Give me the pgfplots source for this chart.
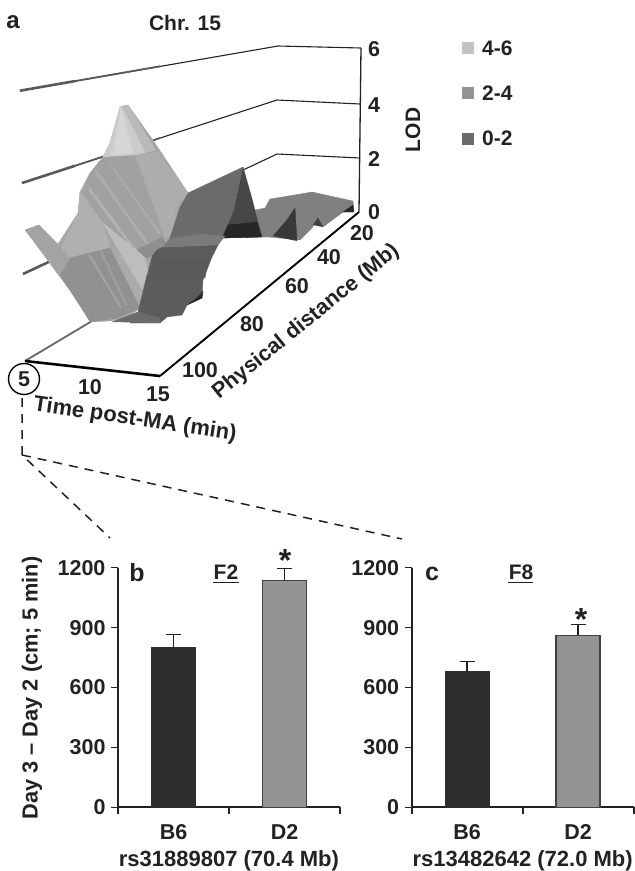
\documentclass[border=0pt]{standalone}
\usepackage{fontspec}
\setmainfont{Liberation Sans}
\usepackage{pgfplots}
\pgfplotsset{compat=1.18}
\definecolor{ink}{HTML}{222222}
\newcommand{\fs}[1]{\fontsize{#1}{#1}\selectfont\bfseries}
\newcommand{\poly}[2]{\addplot[fill=#1,draw=#1,line width=.3pt,mark=none,forget plot] coordinates {#2};}
\newcommand{\seg}[3]{\addplot[draw=#1,line width=#2,mark=none,forget plot] coordinates {#3};}
\pgfplotsset{barpanel/.style={
  scale only axis,width=222pt,height=239.6pt,anchor=south west,
  xmin=0,xmax=2,ymin=0,ymax=1200,clip=false,
  axis x line*=bottom,axis y line*=left,axis line style={-,line width=1.7pt,ink},
  xtick={0,1,2},xticklabels={},
  ytick={0,300,600,900,1200},
  tick align=outside,major tick length=7pt,tick style={line width=1.6pt,ink},
  /pgf/number format/assume math mode=true,/pgf/number format/1000 sep={},
  ticklabel style={font=\fs{21.5},text=ink},
  yticklabel style={xshift=-2pt},
  extra x ticks={0.5,1.5},extra x tick labels={B6,D2},
  extra x tick style={major tick length=0pt,tick style={draw=none},xticklabel style={yshift=-14pt}},
  ybar,bar shift=0pt,bar width=44pt,
  error bars/error bar style={line width=1.5pt,ink},
  error bars/error mark options={rotate=90,mark size=7.5pt,line width=1.5pt,ink},
}}
\begin{document}
\begin{tikzpicture}
\useasboundingbox (0,0) rectangle (635pt,871pt);
\begin{axis}[at={(0pt,0pt)},anchor=south west,scale only axis,width=635pt,height=871pt,
  xmin=0,xmax=635,ymin=0,ymax=871,y dir=reverse,hide axis,clip=false]
% LOD wall lines
\seg{ink}{1.1pt}{(20,90.7)(278,46)(361,48)}
\seg{ink}{1.1pt}{(22,183)(277,100)(360,104)}
\seg{ink}{1.1pt}{(23,274)(277,154)(360,158)}
\seg{black!65}{1.8pt}{(75,81.1)(160,66.3)}
\seg{black!65}{2.6pt}{(20,90.7)(75,81.1)}
\seg{black!65}{1.8pt}{(75,165.8)(160,138)}
\seg{black!65}{2.6pt}{(22,183)(75,165.8)}
\seg{black!65}{2.6pt}{(23,274)(70,252)}
\seg{ink}{1.3pt}{(361,48)(359,212)}
% floor
\seg{black!60}{1.8pt}{(25,361)(92,321)}
\seg{black}{1.9pt}{(160,376)(359,212)}
\seg{black}{2.6pt}{(25,361)(160,376)}
% surface, left body
\poly{black!35}{(25,230)(39,225)(58,244)(78,213)(80,192)(90,173)(103,157)(110,143)(120,107)(128,105)(155,143)(188,193)(177,217)(172,240)(157,252)(147,275)(138,310)(123,320)(93,322)}
\poly{black!37}{(103,157)(135,155)(165,238)(137,250)(103,223)(83,193)(90,173)}
\poly{black!32}{(135,155)(157,152)(188,193)(175,208)(173,232)(165,238)}
\poly{black!31}{(60,250)(78,213)(80,192)(103,223)(110,248)(70,258)}
\poly{black!20}{(103,157)(110,143)(120,107)(128,105)(155,150)(135,155)}
\poly{black!16}{(113,155)(121,108)(133,153)}
\poly{black!27}{(122,106)(128,105)(155,150)(145,152)}
\poly{black!32}{(95,172)(97,171)(150,245)(148,247)}
\poly{black!33}{(110,165)(111,164)(160,232)(159,235)}
\poly{black!30}{(88,190)(90,188)(140,255)(137,255)}
\poly{black!26}{(103,223)(145,257)(148,273)(142,290)(120,253)}
\poly{black!33}{(110,248)(120,253)(142,290)(140,308)}
\poly{black!43}{(60,275)(70,258)(93,252)(110,248)(140,308)(117,318)(90,322)}
\poly{black!36}{(88,255)(90,254)(122,308)(120,308)}
\poly{black!38}{(100,252)(102,251)(128,305)(126,307)}
\poly{black!44}{(137,250)(162,237)(167,245)(155,255)(146,258)}
\poly{black!36}{(25,230)(39,225)(70,258)(60,275)}
% surface, right plateau
\poly{black!50}{(255,210)(265,208)(270,199)(312,192)(353,201)(354,212)(343,212)(323,227)(318,218)(312,228)(300,240)(268,237)(262,237)}
\poly{black!78}{(273,236)(287,220)(295,208)(297,241)}
\poly{black!75}{(313,225)(318,218)(323,227)}
\poly{black!85}{(343,212)(353,205)(354,212)}
% surface, spike
\poly{black!58}{(188,193)(243,167)(233,213)(222,238)(213,247)(170,238)(180,207)}
\poly{black!72}{(243,167)(251,195)(262,237)(222,238)(233,213)}
\poly{black!85}{(228,225)(257,222)(262,237)(222,238)}
% surface, front
\poly{black!64}{(152,256)(157,250)(163,247)(218,245)(212,257)(203,280)(202,298)(187,305)(182,315)(167,317)(160,323)(130,323)(138,312)(147,275)}
\poly{black!52}{(170,238)(163,247)(218,245)(225,236)(200,234)}
\poly{black!65}{(155,262)(208,262)(205,278)(150,278)}
\poly{black!58}{(112,322)(138,312)(160,318)(160,323)}
\poly{black!85}{(187,305)(202,298)(203,291)(199,296)}
% legend
\addplot[only marks,mark=square*,mark size=5.5pt,mark options={fill=black!24,draw=black!24},forget plot] coordinates {(467.5,47.5)};
\addplot[only marks,mark=square*,mark size=5.5pt,mark options={fill=black!42,draw=black!42},forget plot] coordinates {(467.5,92.5)};
\addplot[only marks,mark=square*,mark size=5.5pt,mark options={fill=black!58,draw=black!58},forget plot] coordinates {(467.5,138.5)};
% circle around 5
\addplot[only marks,mark=o,mark size=15.5pt,mark options={draw=black,fill=none,line width=1.4pt},forget plot] coordinates {(24,379)};
% dashed guides
\addplot[draw=ink,line width=1.5pt,mark=none,dash pattern=on 9pt off 7pt,forget plot] coordinates {(22,398)(22,455)(110,538)};
\addplot[draw=ink,line width=1.5pt,mark=none,dash pattern=on 9pt off 7pt,forget plot] coordinates {(22,455)(402,539)};
% underlines
\seg{ink}{1.5pt}{(213,582.7)(239,582.7)}
\seg{ink}{1.5pt}{(508,582.7)(533,582.7)}
% texts
\tikzset{every node/.style={text=ink,inner sep=0pt}}
\node[font=\fs{24}] at (axis cs:13,22) {a};
\node[font=\fs{21}] at (axis cs:185,23) {Chr. 15};
\node[font=\fs{21.5}] at (axis cs:374,49) {6};
\node[font=\fs{21.5}] at (axis cs:374,105) {4};
\node[font=\fs{21.5}] at (axis cs:374,159) {2};
\node[font=\fs{21.5}] at (axis cs:374,212) {0};
\node[font=\fs{21},rotate=90] at (axis cs:413,130) {LOD};
\node[font=\fs{21},anchor=west] at (axis cs:482,48) {4-6};
\node[font=\fs{21},anchor=west] at (axis cs:482,93) {2-4};
\node[font=\fs{21},anchor=west] at (axis cs:482,138) {0-2};
\node[font=\fs{21.5}] at (axis cs:362,233) {20};
\node[font=\fs{21.5}] at (axis cs:329,257) {40};
\node[font=\fs{21.5}] at (axis cs:297,286) {60};
\node[font=\fs{21.5}] at (axis cs:252,324) {80};
\node[font=\fs{21.5}] at (axis cs:200,370) {100};
\node[font=\fs{21.5}] at (axis cs:24,379) {5};
\node[font=\fs{21.5}] at (axis cs:90,387) {10};
\node[font=\fs{21.5}] at (axis cs:158,394) {15};
\node[font=\fs{22},rotate=-8.5] at (axis cs:135,420) {Time post-MA (min)};
\node[font=\fs{21.6},rotate=39] at (axis cs:306,322) {Physical distance (Mb)};
\node[font=\fs{21.8},rotate=90] at (axis cs:32,688) {Day 3 – Day 2 (cm; 5 min)};
\node[font=\fs{25}] at (axis cs:137,573) {b};
\node[font=\fs{21}] at (axis cs:226,572) {F2};
\node[font=\fs{25}] at (axis cs:432,574) {c};
\node[font=\fs{21}] at (axis cs:521,572) {F8};
\node[font=\fs{32}] at (axis cs:285,560) {*};
\node[font=\fs{32}] at (axis cs:581,619) {*};
\end{axis}
% panel b
\begin{axis}[barpanel,at={(118pt,63.7pt)}]
\addplot[fill=black!82,draw=black!82,line width=1.2pt,
  error bars/.cd,y dir=plus,y explicit] coordinates {(0.5,800) +- (0,66)};
\addplot[fill=black!42,draw=black!75,line width=1.6pt,
  error bars/.cd,y dir=plus,y explicit] coordinates {(1.5,1135) +- (0,62)};
\node[font=\fs{22},text=ink] at (axis cs:1,0) [yshift=-54pt] {rs31889807 (70.4 Mb)};
\end{axis}
% panel c
\begin{axis}[barpanel,at={(411.7pt,63.7pt)}]
\addplot[fill=black!82,draw=black!82,line width=1.2pt,
  error bars/.cd,y dir=plus,y explicit] coordinates {(0.5,678) +- (0,51)};
\addplot[fill=black!42,draw=black!75,line width=1.6pt,
  error bars/.cd,y dir=plus,y explicit] coordinates {(1.5,861) +- (0,54)};
\node[font=\fs{22},text=ink] at (axis cs:1,0) [yshift=-54pt] {rs13482642 (72.0 Mb)};
\end{axis}
\end{tikzpicture}
\end{document}
